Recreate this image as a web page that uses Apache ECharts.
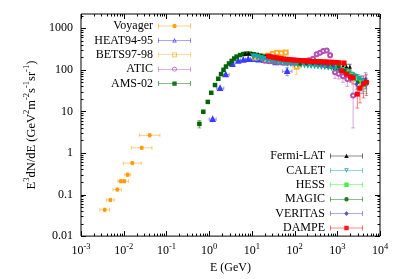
<!DOCTYPE html>
<html><head><meta charset="utf-8">
<script src="https://cdn.jsdelivr.net/npm/echarts@6/dist/echarts.min.js"></script>
<style>html,body{margin:0;padding:0;background:#fff}#c{width:399px;height:279px}</style>
</head><body><div id="c"></div>
<script>
// ---------------- data ----------------
const xTicks = [0.001, 0.01, 0.1, 1, 10, 100, 1000, 10000];
const yTicks = [0.01, 0.1, 1, 10, 100, 1000];
const minorMult = [2, 3, 4, 5, 6, 7, 8, 9];

const voyE   = [0.00359, 0.00485, 0.0071, 0.0086, 0.0103, 0.0124, 0.0159, 0.0264, 0.0405];
const voyF   = [0.043, 0.074, 0.132, 0.21, 0.21, 0.30, 0.57, 1.33, 2.66];
const voyErr = [0.004, 0.007, 0.012, 0.02, 0.02, 0.03, 0.05, 0.12, 0.25];
const voyElo = [0.00277, 0.00393, 0.0056, 0.0073, 0.0082, 0.0106, 0.0098, 0.0152, 0.0233];
const voyEhi = [0.00465, 0.0060, 0.0089, 0.0101, 0.0130, 0.0146, 0.0258, 0.0458, 0.0703];

const heatE   = [1.21, 1.80, 2.44, 3.5, 4.8, 6.3, 8.2, 10.8, 14.5, 19.5, 26, 36, 67];
const heatF   = [6.5, 36, 77, 136, 163, 172, 180, 180, 175, 170, 163, 150, 92];
const heatErr = [0.5, 2.5, 5, 8, 9, 10, 10, 10, 11, 12, 13, 15, 20];
const heatElo = [1.0, 1.5, 2.05, 3.0, 4.0, 5.4, 7.1, 9.3, 12.5, 17, 22, 30, 52];
const heatEhi = [1.46, 2.2, 2.95, 4.0, 5.4, 7.1, 9.3, 12.5, 17, 22, 30, 45, 87];

const betsE   = [12, 15, 19, 24, 31, 39, 49, 62, 112];
const betsF   = [198, 205, 210, 218, 240, 257, 250, 262, 118];
const betsErr = [12, 13, 14, 15, 16, 18, 20, 24, 40];
const betsElo = [10.7, 13.4, 17, 21.4, 27.6, 34.8, 43.7, 55.3, 89];
const betsEhi = [13.4, 17, 21.4, 27, 34.8, 43.7, 55, 69.5, 141];

const aticE   = [20, 26, 33, 42, 53, 67, 85, 107, 135, 170, 215, 270, 330, 395, 470, 565, 680, 885, 1080, 1360, 1720, 2350];
const aticF   = [165, 160, 157, 152, 148, 145, 147, 150, 155, 160, 170, 185, 236, 257, 282, 293, 225, 87, 80, 70, 60, 24];
const aticErr = [10, 10, 10, 10, 10, 10, 10, 11, 12, 13, 15, 17, 22, 25, 30, 33, 30, 25, 20, 20, 20, 20];

const amsE   = [0.59, 0.73, 0.93, 1.12, 1.37, 1.64, 1.90, 2.17, 2.48, 2.91, 3.37, 3.87, 4.4, 5.3, 6.3, 7.5, 9.0, 10.8, 13.0, 15.6, 18.7, 22.5, 27, 32.5, 39, 47, 56, 68, 81, 98, 118, 142, 170, 205, 246, 295, 355, 426, 512, 615, 740, 890];
const amsF   = [5.0, 9.8, 16.9, 28, 43, 61, 79, 100, 120, 142, 164, 187, 208, 226, 240, 246, 244, 238, 228, 218, 208, 200, 192, 185, 180, 175, 170, 166, 162, 158, 155, 152, 150, 146, 143, 140, 137, 133, 130, 125, 120, 112];
const amsErr = [1.0, 0.8, 0.9, 1.0, 1.3, 1.5, 1.6, 1.8, 2, 2, 2, 2, 2, 2, 2, 2, 2, 2, 2, 2, 2, 2, 2, 2, 2, 2, 2, 2, 2, 2, 2.5, 2.5, 3, 3, 4, 4, 5, 6, 7, 8, 10, 12];

const fermiE   = [7.0, 8.4, 10.0, 12.0, 14.4, 17.3, 20.7, 24.9, 29.8, 35.8, 42.9, 51.5, 61.8, 74.1, 89, 107, 128, 154, 184, 221, 266, 319, 382, 459, 551, 661, 793, 951, 1140, 1370, 1640, 1970];
const fermiF   = [245, 248, 245, 238, 230, 220, 212, 204, 196, 190, 184, 178, 173, 169, 165, 162, 158, 156, 153, 150, 148, 145, 143, 140, 137, 134, 130, 127, 124, 122, 120, 118];
const fermiErr = [3, 3, 3, 3, 3, 3, 3, 3, 3, 3, 3, 3, 3, 3, 3, 4, 4, 4, 4, 5, 5, 5, 6, 6, 7, 8, 9, 10, 12, 14, 16, 18];

const caletE   = [11, 13.2, 15.8, 19, 22.8, 27.4, 32.9, 39.5, 47.4, 56.9, 68.3, 82, 98.4, 118, 142, 170, 204, 245, 294, 353, 424, 509, 611, 733, 880, 1060, 1270, 1520, 1830, 2200, 2640, 3170, 3800, 4800];
const caletF   = [215, 205, 195, 186, 178, 171, 165, 160, 156, 152, 148, 145, 142, 140, 137, 135, 132, 130, 128, 126, 124, 122, 119, 116, 112, 108, 100, 92, 84, 75, 68, 62, 55, 45];
const caletErr = [4, 4, 4, 4, 4, 4, 4, 4, 4, 4, 4, 4, 4, 4, 4, 4, 5, 5, 5, 6, 6, 7, 7, 8, 9, 10, 10, 11, 12, 12, 14, 15, 16, 18];

const hessE   = [340, 430, 540, 680, 860, 1080, 1360, 1710, 2150, 2700, 3400, 4300];
const hessF   = [145, 140, 138, 130, 125, 118, 105, 92, 78, 65, 52, 42];
const hessErr = [15, 15, 15, 14, 14, 14, 13, 12, 12, 12, 12, 12];

const magicE   = [135, 190, 270, 380, 540, 760, 1070, 1500, 2100, 3000];
const magicF   = [136, 140, 142, 140, 137, 130, 118, 95, 70, 50];
const magicErr = [10, 10, 11, 12, 13, 14, 15, 15, 14, 14];

const veritasE   = [330, 450, 610, 830, 1120, 1520, 2060, 2800, 3800, 4600];
const veritasF   = [140, 132, 125, 122, 100, 80, 62, 45, 42, 60];
const veritasErr = [10, 10, 10, 12, 12, 12, 12, 12, 15, 25];

const dampeE   = [24.5, 28, 32, 37, 42, 48, 55, 63, 72, 83, 95, 109, 125, 143, 164, 188, 215, 247, 283, 324, 371, 425, 487, 558, 639, 732, 838, 960, 1100, 1270, 1440, 1660, 2050, 2350, 2950, 3400, 4100, 4800];
const dampeF   = [212, 206, 200, 195, 190, 186, 182, 179, 176, 174, 172, 170, 168, 166, 165, 163, 162, 160, 159, 158, 157, 156, 155, 154, 153, 152, 151, 150, 148, 95, 145, 79, 68, 64, 26, 36, 46, 50];
const dampeErr = [2, 2, 2, 2, 2, 2, 2, 2, 2, 2, 2, 2, 2, 2, 2, 2, 2, 2, 3, 3, 3, 3, 4, 4, 4, 5, 5, 6, 6, 12, 18, 15, 15, 17, 14, 20, 25, 26];

// --------------- chart ----------------
const FONT = 'Liberation Serif';
const YMIN = 0.01, YMAX = 2200, XMIN = 0.001, XMAX = 10000;

// legend icon shapes (error bar with caps + marker), 33 x 5 box
const BAR = 'M0 0H0.6V5H0Z M32.4 0H33V5H32.4Z M0.6 2.25H32.4V2.75H0.6Z ';
const MARK = {
  circle:        'M14.3 2.5A2.2 2.2 0 1 1 18.7 2.5A2.2 2.2 0 1 1 14.3 2.5Z',
  emptyCircle:   'M14.1 2.5A2.4 2.4 0 1 1 18.9 2.5A2.4 2.4 0 1 1 14.1 2.5Z M14.9 2.5A1.6 1.6 0 1 0 18.1 2.5A1.6 1.6 0 1 0 14.9 2.5Z',
  rect:          'M14.3 0.3H18.7V4.7H14.3Z',
  emptyRect:     'M14.1 0.1H18.9V4.9H14.1Z M14.9 0.9V4.1H18.1V0.9Z',
  triangle:      'M16.5 0.2L18.8 4.6H14.2Z',
  emptyTriangle: 'M16.5 0.2L18.8 4.6H14.2Z M16.5 1.7L15.5 3.9H17.5Z',
  emptyTriDown:  'M14.2 0.4H18.8L16.5 4.8Z M15.5 1.1L16.5 3.3L17.5 1.1Z',
  diamond:       'M16.5 0.1L18.9 2.5L16.5 4.9L14.1 2.5Z'
};

const sets = [
  {name:'Voyager',    color:'#ff9900', symbol:'circle',        icon:'circle',        size:4, E:voyE, F:voyF, err:voyErr, lo:voyElo, hi:voyEhi},
  {name:'HEAT94-95',  color:'#3a3aff', symbol:'emptyTriangle', icon:'emptyTriangle', size:3.5, E:heatE, F:heatF, err:heatErr, lo:heatElo, hi:heatEhi},
  {name:'BETS97-98',  color:'#ffb030', symbol:'emptyRect',     icon:'emptyRect',     size:4, E:betsE, F:betsF, err:betsErr, lo:betsElo, hi:betsEhi},
  {name:'ATIC',       color:'#b450b4', symbol:'emptyCircle',   icon:'emptyCircle',   size:4, E:aticE, F:aticF, err:aticErr},
  {name:'AMS-02',     color:'#006400', symbol:'rect',          icon:'rect',          size:4.5, E:amsE, F:amsF, err:amsErr},
  {name:'Fermi-LAT',  color:'#000000', symbol:'triangle',      icon:'triangle',      size:4, E:fermiE, F:fermiF, err:fermiErr},
  {name:'CALET',      color:'#20a0a0', symbol:'emptyTriangle', icon:'emptyTriDown',  size:3.5, rot:180, E:caletE, F:caletF, err:caletErr},
  {name:'HESS',       color:'#33ee33', symbol:'rect',          icon:'rect',          size:3, E:hessE, F:hessF, err:hessErr},
  {name:'MAGIC',      color:'#0a6a0a', symbol:'circle',        icon:'circle',        size:3.5, E:magicE, F:magicF, err:magicErr},
  {name:'VERITAS',    color:'#4646c8', symbol:'diamond',       icon:'diamond',       size:4, E:veritasE, F:veritasF, err:veritasErr},
  {name:'DAMPE',      color:'#ff0000', symbol:'rect',          icon:'rect',          size:5, E:dampeE, F:dampeF, err:dampeErr}
];

function errSeries(s) {
  const data = s.E.map((e, i) => [e, s.F[i], s.lo ? s.lo[i] : e, s.hi ? s.hi[i] : e,
    Math.max(s.F[i] - s.err[i], YMIN * 1.05), s.F[i] + s.err[i]]);
  return {
    type: 'custom', name: s.name + ' err', silent: true, animation: false,
    data: data, encode: {x: 0, y: 1}, clip: true,
    renderItem: function (params, api) {
      const x = api.value(0), y = api.value(1);
      const xl = api.value(2), xh = api.value(3), yl = api.value(4), yh = api.value(5);
      const st = {stroke: s.color, lineWidth: 1, opacity: 0.5, fill: null};
      const ch = [];
      const cap = 1.8;
      if (xh > xl) {
        const a = api.coord([xl, y]), b = api.coord([xh, y]);
        ch.push({type:'line', shape:{x1:a[0], y1:a[1], x2:b[0], y2:b[1]}, style: st});
        ch.push({type:'line', shape:{x1:a[0], y1:a[1]-cap, x2:a[0], y2:a[1]+cap}, style: st});
        ch.push({type:'line', shape:{x1:b[0], y1:b[1]-cap, x2:b[0], y2:b[1]+cap}, style: st});
      }
      if (yh > yl) {
        const a = api.coord([x, yl]), b = api.coord([x, yh]);
        ch.push({type:'line', shape:{x1:a[0], y1:a[1], x2:b[0], y2:b[1]}, style: st});
        if (Math.abs(a[1] - b[1]) > 3) {
          ch.push({type:'line', shape:{x1:a[0]-cap, y1:a[1], x2:a[0]+cap, y2:a[1]}, style: st});
          ch.push({type:'line', shape:{x1:b[0]-cap, y1:b[1], x2:b[0]+cap, y2:b[1]}, style: st});
        }
      }
      return {type: 'group', children: ch};
    }
  };
}

function markSeries(s) {
  return {
    type: 'line', name: s.name, animation: false,
    data: s.E.map((e, i) => [e, s.F[i]]),
    symbol: s.symbol, symbolSize: s.size, symbolRotate: s.rot || 0,
    showSymbol: true, showAllSymbol: true,
    lineStyle: {width: 0, opacity: 0},
    itemStyle: {color: s.color, borderColor: s.color, borderWidth: s.symbol.indexOf('empty') === 0 ? 1 : 0, opacity: 1},
    emphasis: {disabled: true}
  };
}

const series = [];
sets.forEach(s => { series.push(errSeries(s)); series.push(markSeries(s)); });

// ticks on all four sides (inward), major and minor
series.push({
  type: 'custom', name: 'ticks', silent: true, animation: false, clip: false, z: 10,
  data: [[1, 1]], encode: {x: 0, y: 1},
  renderItem: function (params, api) {
    const cs = params.coordSys;
    const ch = [];
    const st = {stroke: '#000', lineWidth: 1};
    const L = cs.x, R = cs.x + cs.width, T = cs.y, B = cs.y + cs.height;
    function addX(v, len) {
      const px = Math.round(api.coord([v, 1])[0]) + 0.5;
      ch.push({type:'line', shape:{x1:px, y1:B, x2:px, y2:B-len}, style: st});
      ch.push({type:'line', shape:{x1:px, y1:T, x2:px, y2:T+len}, style: st});
    }
    function addY(v, len) {
      const py = Math.round(api.coord([1, v])[1]) + 0.5;
      ch.push({type:'line', shape:{x1:L, y1:py, x2:L+len, y2:py}, style: st});
      ch.push({type:'line', shape:{x1:R, y1:py, x2:R-len, y2:py}, style: st});
    }
    xTicks.forEach(t => {
      addX(t, 5);
      minorMult.forEach(m => { const v = t * m; if (v < XMAX) addX(v, 2.5); });
    });
    yTicks.forEach(t => {
      addY(t, 5);
      minorMult.forEach(m => { const v = t * m; if (v < YMAX) addY(v, 2.5); });
    });
    return {type: 'group', children: ch};
  }
});

const supRich = {
  b: {fontFamily: FONT, fontSize: 12, color: '#000', padding: [3, 0, 0, 0], verticalAlign: 'bottom'},
  s: {fontFamily: FONT, fontSize: 8.5, color: '#000', verticalAlign: 'top'}
};
const nameRich = {
  b: {fontFamily: FONT, fontSize: 12.5, color: '#000', padding: [3, 0, 0, 0], verticalAlign: 'bottom'},
  s: {fontFamily: FONT, fontSize: 8.5, color: '#000', verticalAlign: 'top'}
};

function legendCfg(names, right, top) {
  return {
    orient: 'vertical', align: 'right', right: right, top: top, padding: 0,
    itemWidth: 33, itemHeight: 5, itemGap: 2.4, selectedMode: false,
    textStyle: {fontFamily: FONT, fontSize: 12, color: '#000'},
    data: names.map(n => {
      const s = sets.find(q => q.name === n);
      return {name: n, icon: 'path://' + BAR + MARK[s.icon],
              itemStyle: {color: s.color, borderWidth: 0, opacity: 0.9}};
    })
  };
}

const option = {
  animation: false,
  backgroundColor: '#fff',
  textStyle: {fontFamily: FONT},
  grid: {left: 81, right: 19, top: 14, bottom: 40, show: true, borderColor: '#000', borderWidth: 1, backgroundColor: 'transparent'},
  legend: [
    legendCfg(['Voyager', 'HEAT94-95', 'BETS97-98', 'ATIC', 'AMS-02'], 208, 20),
    legendCfg(['Fermi-LAT', 'CALET', 'HESS', 'MAGIC', 'VERITAS', 'DAMPE'], 36, 150)
  ],
  xAxis: {
    type: 'log', logBase: 10, min: XMIN, max: XMAX,
    name: 'E (GeV)', nameLocation: 'middle', nameGap: 24,
    nameTextStyle: {fontFamily: FONT, fontSize: 12, color: '#000'},
    axisLine: {show: false}, axisTick: {show: false}, splitLine: {show: false}, minorTick: {show: false},
    axisLabel: {
      margin: 6,
      formatter: function (v) { const e = Math.round(Math.log10(v)); return '{b|10}{s|' + e + '}'; },
      rich: supRich
    }
  },
  yAxis: {
    type: 'log', logBase: 10, min: YMIN, max: YMAX,
    name: '{b|E}{s|3}{b|dN/dE (GeV}{s|2}{b|m}{s|-2}{b|s}{s|-1}{b|sr}{s|-1}{b|)}',
    nameLocation: 'middle', nameGap: 33, nameRotate: 90,
    nameTextStyle: {rich: nameRich},
    axisLine: {show: false}, axisTick: {show: false}, splitLine: {show: false}, minorTick: {show: false},
    axisLabel: {
      margin: 8, fontFamily: FONT, fontSize: 12, color: '#000',
      formatter: function (v) {
        const e = Math.log10(v);
        if (Math.abs(e - Math.round(e)) > 1e-6) return '';
        const labels = {'-2': '0.01', '-1': '0.1', '0': '1', '1': '10', '2': '100', '3': '1000'};
        return labels[String(Math.round(e))] || '';
      }
    }
  },
  series: series
};

const chart = echarts.init(document.getElementById('c'), null, {renderer: 'canvas'});
chart.setOption(option);
</script>
</body></html>
